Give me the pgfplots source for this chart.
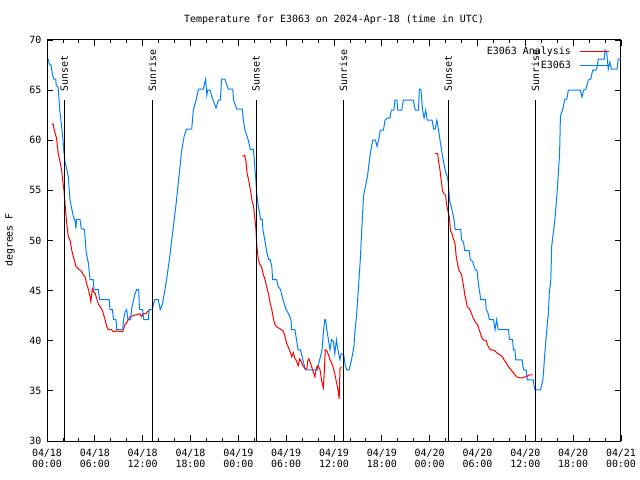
\documentclass[border=0pt]{standalone}
\usepackage{pgfplots}
\pgfplotsset{compat=1.18}
\usepackage{fontspec}
\setmainfont{DejaVu Sans Mono}
\definecolor{gblue}{RGB}{0,128,255}
\definecolor{gred}{RGB}{255,0,0}
\begin{document}
\begin{tikzpicture}
\useasboundingbox (0,0) rectangle (640bp,480bp);
\begin{axis}[
 at={(47bp,39bp)}, anchor=south west,
 width=574bp, height=401bp, scale only axis,
 xmin=0, xmax=72, ymin=30, ymax=70,
 xtick={0,6,...,72},
 xticklabels={{04/18\\00:00},{04/18\\06:00},{04/18\\12:00},{04/18\\18:00},{04/19\\00:00},{04/19\\06:00},{04/19\\12:00},{04/19\\18:00},{04/20\\00:00},{04/20\\06:00},{04/20\\12:00},{04/20\\18:00},{04/21\\00:00}},
 minor x tick num=2,
 ytick={30,35,...,70},
 tick align=inside,
 major tick length=6bp, minor tick length=3bp,
 tick style={black, line width=0.8bp},
 axis line style={line width=1bp},
 font=\fontsize{10}{12}\selectfont,
 xticklabel style={align=center, font=\fontsize{10}{10.5}\selectfont, yshift=-5bp},
 yticklabel style={xshift=-2bp},
 /pgf/number format/assume math mode=true,
 legend plot pos=right,
 legend cell align=right,
 legend style={draw=none, fill=none, at={(1,1)}, anchor=north east, xshift=-8bp, yshift=-3bp, row sep=0.5bp, font=\fontsize{10}{12}\selectfont},
 legend image code/.code={\path (0bp,0bp); \draw[#1] (7bp,0bp) -- (36bp,0bp);},
]
\addplot[gred, line width=1bp] coordinates {
(0.59,61.6) (0.8,61.6) (0.85,61.2) (1.2,60.2) (1.4,58.7) (1.6,58.0) (1.84,57.0) (1.97,56.0) (2.13,55.0) (2.26,53.7) (2.47,51.7) (2.67,50.4) (2.9,50.0) (3.1,49.05) (3.3,48.4) (3.64,47.4) (4.05,47.1) (4.35,46.9) (4.6,46.5) (4.77,46.4) (4.97,45.7) (5.2,45.1) (5.4,44.4) (5.5,43.9) (5.7,45.2) (5.85,44.9) (6.05,44.7) (6.23,44.2) (6.44,43.7) (6.65,43.4) (6.85,43.2) (7.07,42.7) (7.28,42.1) (7.5,41.4) (7.7,41.1) (8.1,41.1) (8.3,40.9) (8.53,40.9) (8.75,41.0) (9.15,40.9) (9.5,40.9) (9.78,41.6) (10.07,41.9) (10.4,42.4) (10.8,42.5) (11.25,42.6) (11.65,42.7) (11.85,42.4) (12.05,42.7) (12.4,42.7) (12.6,42.9) (12.9,43.1)
};
\addlegendentry{E3063 Analysis}
\addplot[gblue, line width=1bp] coordinates {
(0.15,68.1) (0.3,67.6) (0.5,67.5) (0.7,66.5) (0.85,66.1) (1.1,66.1) (1.15,65.5) (1.4,65.3) (1.6,63) (1.97,60.4) (2.1,59) (2.26,57.9) (2.67,56.4) (2.89,54) (3.3,52.4) (3.5,52) (3.64,51.2) (3.7,52.1) (4.14,52.1) (4.3,51.2) (4.7,51.1) (4.9,48.9) (5.2,47.7) (5.4,46.1) (5.8,46.1) (5.9,45.1) (6.44,45.1) (6.6,44.1) (7.8,44.1) (7.9,43.1) (8.2,43.1) (8.35,42.1) (8.65,42.1) (8.75,41.1) (9.5,41.1) (9.6,42.1) (9.8,42.9) (10.0,43.1) (10.15,42.1) (10.5,42.1) (10.6,43.1) (11.0,44.6) (11.25,45.1) (11.5,45.1) (11.6,43.1) (12.0,43.1) (12.15,42.1) (12.7,42.1) (12.8,43.1) (13.2,43.1) (13.35,43.6) (13.5,44.1) (13.97,44.1) (14.2,43.1) (14.5,43.7) (14.7,44.7) (15.0,46.1) (15.4,48.4) (15.85,51.4) (16.2,53.7) (16.5,56.0) (16.9,59) (17.2,60.4) (17.5,61.1) (18.15,61.1) (18.35,63.0) (18.7,64.0) (19.0,65.1) (19.6,65.1) (19.9,66.1) (20.05,64.5) (20.15,65.0) (20.45,65.0) (20.7,64.3) (21.2,63.2) (21.5,64) (21.75,64) (21.9,66.1) (22.3,66.1) (22.6,65.4) (22.75,65.1) (23.3,65.1) (23.4,64) (23.8,63.1) (24.5,63.1) (24.6,62.2) (24.8,61.1) (25.25,60.0) (25.5,59.1) (25.9,59.1) (26.1,57.0) (26.2,56.0) (26.3,54.7) (26.5,53.5) (26.8,52.1) (27.0,52.1) (27.1,51) (27.35,49.9) (27.55,48.9) (27.8,48.1) (28.0,48.1) (28.2,47.4) (28.3,46.1) (28.8,46.1) (29.0,45.4) (29.3,45.1) (29.6,44.1) (30.0,43.1) (30.3,42.7) (30.6,42.1) (30.7,41.1) (31.1,41.1) (31.3,40.1) (31.5,39.1) (31.8,39.1) (32.1,38.1) (32.4,37.1) (33.9,37.1) (34.2,38.1) (34.5,39.1) (34.7,41.1) (34.85,42.1) (34.95,42.1) (35.1,41.1) (35.3,40.1) (35.5,39.1) (35.7,40.1) (35.9,40.0) (36.1,38.7) (36.3,40.1) (36.5,39.1) (36.75,38.1) (36.9,38.7) (37.2,38.7) (37.4,37.6) (37.6,37.1) (37.9,37.1) (38.2,38.1) (38.5,39.4) (38.6,40.7) (38.85,42.7) (39.05,45.1) (39.3,48.1) (39.5,51.4) (39.7,54.4) (40.1,56.0) (40.2,56.4) (40.5,58.4) (40.85,60.0) (41.2,60.0) (41.4,59.4) (41.6,60) (41.8,61.0) (42.2,61.0) (42.4,62.0) (42.7,62.2) (43.0,62.2) (43.2,63) (43.5,63) (43.65,64) (43.9,64) (44.0,63) (44.5,63) (44.7,64) (45.95,64) (46.2,63) (46.6,63) (46.7,65.1) (46.9,65.1) (47.1,63.1) (47.3,62.2) (47.5,63) (47.7,62) (48.3,62) (48.5,61.1) (48.7,61.1) (48.9,62) (49.1,61.1) (49.3,60) (49.5,59) (49.7,58) (49.95,57) (50.2,56.4) (50.3,56) (50.5,54) (50.75,53.2) (50.9,52.7) (51.05,52.1) (51.2,51.1) (51.9,51.1) (52.0,50.1) (52.25,49.8) (52.4,49) (52.95,49) (53.1,48.1) (53.4,47.9) (53.7,47.1) (53.95,47.0) (54.1,45.7) (54.3,44.7) (54.4,44.1) (55.0,44.1) (55.1,43.1) (55.3,42.8) (55.5,42.1) (56.0,42.1) (56.2,41.1) (56.4,42.1) (56.6,41.1) (57.9,41.1) (58.0,40.1) (58.4,40.1) (58.5,39.1) (58.7,39.1) (58.8,38.1) (59.6,38.1) (59.7,37.4) (59.8,37.1) (60.1,37.1) (60.25,36.1) (61.0,36.1) (61.1,35.4) (61.2,35.1) (61.9,35.1) (62.0,35.4) (62.2,36.1) (62.3,37.1) (62.45,38.8) (62.6,40.2) (62.8,42.1) (62.9,42.7) (63.0,44.7) (63.2,46.1) (63.3,49.4) (63.5,50.7) (63.7,52.0) (63.85,53.5) (64.0,55.0) (64.1,56.2) (64.3,58.7) (64.4,62.4) (64.7,63.1) (64.95,64.1) (65.2,64.1) (65.4,65.0) (66.9,65.0) (67.1,64.3) (67.3,65.0) (67.6,65.1) (67.9,66.0) (68.2,66.1) (68.45,67.0) (68.75,67.0) (68.95,67.1) (69.15,68.1) (69.7,68.1) (69.9,68.1) (70.0,69.0) (70.2,68.8) (70.4,67.1) (70.6,67.8) (70.8,67.1) (71.5,67.1) (71.65,68.1) (72.0,68.1)
};
\addlegendentry{E3063}
\addplot[gred, line width=1bp, forget plot] coordinates {
(24.5,58.4) (24.8,58.5) (24.95,57.9) (25.1,56.7) (25.3,56.0) (25.45,55.3) (25.6,54.7) (25.7,54.0) (25.9,53.5) (26.0,52.7) (26.1,52) (26.2,51.2) (26.3,49.7) (26.5,48.1) (26.7,47.6) (26.9,47.4) (27.1,46.7) (27.35,46.1) (27.55,45.4) (27.8,44.6) (28.0,43.7) (28.2,43.1) (28.4,42.2) (28.6,41.6) (28.8,41.4) (29.0,41.3) (29.4,41.1) (29.6,41.0) (29.8,40.6) (30.07,39.7) (30.3,39.3) (30.5,38.9) (30.7,38.4) (30.9,38.8) (31.1,38.2) (31.3,38.0) (31.5,37.5) (31.7,38.2) (31.9,37.9) (32.1,37.5) (32.4,37.2) (32.6,37.2) (32.7,38.0) (32.85,38.2) (33.0,37.9) (33.2,37.4) (33.4,36.9) (33.6,36.4) (33.75,37.1) (33.9,37.5) (34.05,37.4) (34.25,37.1) (34.45,36.0) (34.66,35.3) (34.8,37.1) (34.9,39.1) (35.1,39.0) (35.3,38.6) (35.5,38.1) (35.7,37.8) (35.9,37.3) (36.1,36.7) (36.3,35.9) (36.5,35.1) (36.65,34.2) (36.75,37.2) (36.95,37.4)
};
\addplot[gred, line width=1bp, forget plot] coordinates {
(48.7,58.7) (49.0,58.7) (49.1,58.0) (49.3,57.0) (49.45,56.0) (49.6,55.0) (49.75,54.7) (50.0,54.5) (50.1,53.7) (50.3,52.9) (50.5,52.2) (50.6,51.0) (50.8,50.7) (50.97,50.2) (51.2,49.6) (51.3,48.6) (51.4,48.1) (51.6,47.3) (51.7,47.0) (52.0,46.6) (52.15,45.9) (52.3,45.2) (52.4,44.6) (52.55,44.1) (52.7,43.4) (53.0,43.2) (53.3,42.6) (53.5,42.2) (53.7,41.9) (54.0,41.6) (54.3,40.9) (54.5,40.4) (54.7,40.1) (55.1,40.0) (55.3,39.5) (55.6,39.1) (55.8,39.1) (56.2,39.0) (56.4,38.8) (56.8,38.6) (57.0,38.5) (57.2,38.3) (57.4,38.0) (57.6,37.8) (57.8,37.5) (58.0,37.3) (58.2,37.1) (58.4,36.9) (58.7,36.6) (58.9,36.4) (59.3,36.3) (59.7,36.3) (59.9,36.4) (60.1,36.4) (60.3,36.5) (60.5,36.6) (60.9,36.6)
};
\addplot[black, line width=1bp, forget plot] coordinates {(2.17,30) (2.17,64)};
\addplot[black, line width=1bp, forget plot] coordinates {(13.21,30) (13.21,64)};
\addplot[black, line width=1bp, forget plot] coordinates {(26.22,30) (26.22,64)};
\addplot[black, line width=1bp, forget plot] coordinates {(37.17,30) (37.17,64)};
\addplot[black, line width=1bp, forget plot] coordinates {(50.34,30) (50.34,64)};
\addplot[black, line width=1bp, forget plot] coordinates {(61.26,30) (61.26,64)};
\node[rotate=90, anchor=west, inner sep=0pt] at ([yshift=8bp]axis cs:2.17,64) {Sunset};
\node[rotate=90, anchor=west, inner sep=0pt] at ([yshift=8bp]axis cs:13.21,64) {Sunrise};
\node[rotate=90, anchor=west, inner sep=0pt] at ([yshift=8bp]axis cs:26.22,64) {Sunset};
\node[rotate=90, anchor=west, inner sep=0pt] at ([yshift=8bp]axis cs:37.17,64) {Sunrise};
\node[rotate=90, anchor=west, inner sep=0pt] at ([yshift=8bp]axis cs:50.34,64) {Sunset};
\node[rotate=90, anchor=west, inner sep=0pt] at ([yshift=8bp]axis cs:61.26,64) {Sunrise};
\end{axis}
\node[font=\fontsize{10}{12}\selectfont] at (334bp,460bp) {Temperature for E3063 on 2024-Apr-18 (time in UTC)};
\node[rotate=90, font=\fontsize{10}{12}\selectfont] at (10bp,240bp) {degrees F};
\end{tikzpicture}
\end{document}
